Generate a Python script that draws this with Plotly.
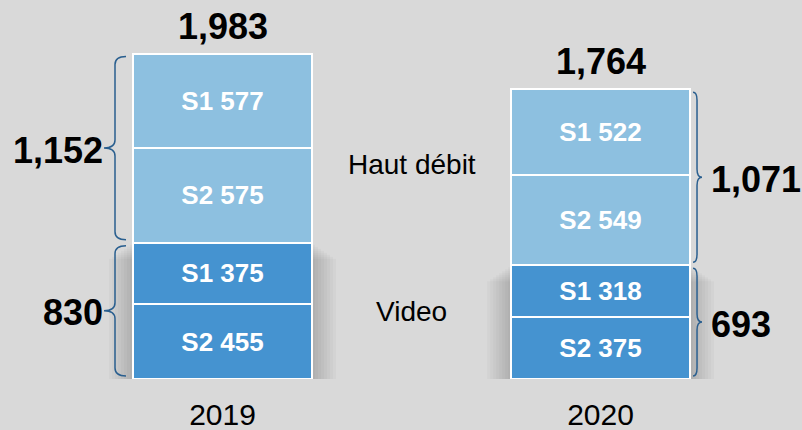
import plotly.graph_objects as go

years = ["2019", "2020"]
video_s2 = [455, 375]
video_s1 = [375, 318]
hd_s2 = [575, 549]
hd_s1 = [577, 522]
totals = [1983, 1764]
hd_totals = [1152, 1071]
video_totals = [830, 693]
group_names = ["Haut débit", "Video"]

BG = "#d9d9d9"
LIGHT = "#8dc0e0"
DARK = "#4593d0"
BRACE = "#2a5f8f"
FONT = "Arial, Liberation Sans, sans-serif"

W, H = 802, 430
x_range = [-0.5886, 1.533]
PX_X = W / (x_range[1] - x_range[0])
y_top = 2308
BOTTOM = 51
PX_Y = (H - BOTTOM) / y_top
BAR_W = 179 / PX_X

xs = list(range(len(years)))

fig = go.Figure()

segments = [
    ("S2", video_s2, DARK),
    ("S1", video_s1, DARK),
    ("S2", hd_s2, LIGHT),
    ("S1", hd_s1, LIGHT),
]
for name, vals, col in segments:
    fig.add_trace(go.Bar(
        x=xs, y=vals, width=BAR_W,
        marker=dict(color=col, line=dict(color="white", width=2)),
        text=[f"{name} {v}" for v in vals],
        textposition="inside", insidetextanchor="middle", textangle=0,
        textfont=dict(family=FONT, size=26, color="white", weight="bold"),
        hoverinfo="skip", showlegend=False,
    ))

shapes = []
# soft shadow around the video segments
for i, x in enumerate(xs):
    vt = video_s2[i] + video_s1[i]
    for k in range(1, 9):
        dx = (3 * k) / PX_X
        shapes.append(dict(
            type="rect", xref="x", yref="y", layer="below",
            x0=x - BAR_W / 2 - dx, x1=x + BAR_W / 2 + dx,
            y0=0, y1=vt - k * 2 / PX_Y,
            fillcolor="black", opacity=0.022, line=dict(width=0),
        ))


def brace(xv, xend, xtip, y0, y1, r):
    ym = (y0 + y1) / 2
    return (f"M {xend},{y1} Q {xv},{y1} {xv},{y1 - r} "
            f"L {xv},{ym + r} Q {xv},{ym} {xtip},{ym} "
            f"Q {xv},{ym} {xv},{ym - r} "
            f"L {xv},{y0 + r} Q {xv},{y0} {xend},{y0}")


r = 8 / PX_Y
gap = 3 / PX_Y
annotations = []
for i, x in enumerate(xs):
    vt = video_s2[i] + video_s1[i]
    top = vt + hd_s2[i] + hd_s1[i]
    if i == 0:
        edge = x - BAR_W / 2
        xv, xend, xtip = edge - 18 / PX_X, edge - 7 / PX_X, edge - 29 / PX_X
        anchor, shift = "right", 1
    else:
        edge = x + BAR_W / 2
        xv, xend, xtip = edge + 7 / PX_X, edge + 3 / PX_X, edge + 12 / PX_X
        anchor, shift = "left", 7
    for (y0, y1, lab) in [(gap, vt - gap, video_totals[i]),
                          (vt + gap, top - gap, hd_totals[i])]:
        shapes.append(dict(type="path", xref="x", yref="y",
                           path=brace(xv, xend, xtip, y0, y1, r),
                           line=dict(color=BRACE, width=1.5)))
        annotations.append(dict(
            x=xtip, y=(y0 + y1) / 2, xref="x", yref="y",
            text=f"{lab:,}", showarrow=False, xanchor=anchor, yanchor="middle",
            xshift=shift, yshift=-2,
            font=dict(family=FONT, size=36, color="black", weight="bold")))
    annotations.append(dict(
        x=x, y=top, xref="x", yref="y", text=f"{totals[i]:,}",
        showarrow=False, xanchor="center", yanchor="bottom", yshift=5,
        font=dict(family=FONT, size=36, color="black", weight="bold")))

mid_x = sum(xs) / len(xs)
hd_mid = sum(video_s2[i] + video_s1[i] + (hd_s2[i] + hd_s1[i]) / 2 for i in xs) / len(xs)
vid_mid = sum((video_s2[i] + video_s1[i]) / 2 for i in xs) / len(xs)
for name, ym, ys in zip(group_names, [hd_mid, vid_mid], [-2, 5]):
    annotations.append(dict(
        x=mid_x, y=ym, xref="x", yref="y", text=name, showarrow=False,
        xanchor="center", yanchor="middle", yshift=ys,
        font=dict(family=FONT, size=28, color="black")))

fig.update_layout(
    width=W, height=H,
    margin=dict(l=0, r=0, t=0, b=BOTTOM, pad=0, autoexpand=False),
    paper_bgcolor=BG, plot_bgcolor=BG,
    barmode="stack",
    shapes=shapes, annotations=annotations,
    xaxis=dict(range=x_range, tickvals=xs, ticktext=years, showgrid=False,
               zeroline=False, showline=False, ticks="", fixedrange=True,
               automargin=False,
               tickfont=dict(family=FONT, size=30, color="black"),
               ticklabelstandoff=15),
    yaxis=dict(range=[0, y_top], visible=False, fixedrange=True,
               automargin=False),
)

fig.write_html(
    "out.html",
    config={"displayModeBar": False},
    post_script="document.body.style.margin='0';document.body.style.background='%s';" % BG,
)
